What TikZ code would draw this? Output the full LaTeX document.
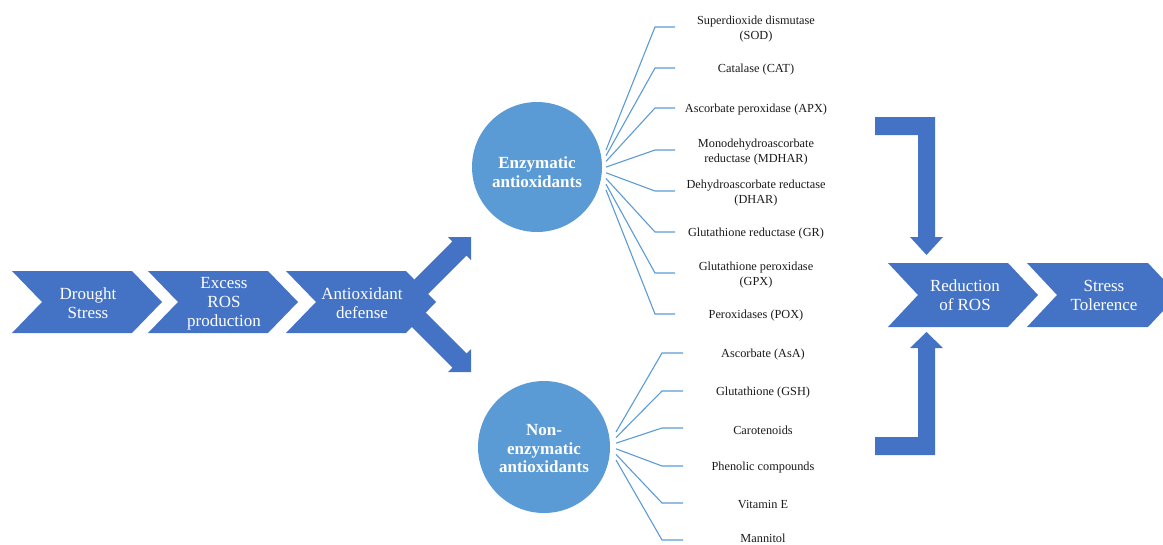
\documentclass[tikz,border=0pt]{standalone}
\usepackage{fontspec}
\setmainfont{Liberation Serif}
\definecolor{chev}{HTML}{4472C4}
\definecolor{circ}{HTML}{5B9BD5}
\definecolor{itemtxt}{HTML}{1A1A1A}
\newcommand\chevronpath[4]{% left x, top y, height, width to tip
  \fill[chev] (#1,#2) -- ++(#4-30,0) -- ++(30,#3/2) -- ++(-30,#3/2) -- ++(-#4+30,0) -- ++(30,-#3/2) -- cycle;}
\begin{document}
\begin{tikzpicture}[x=1pt,y=-1pt,
  chevtext/.style={text=white,align=center,font=\fontsize{17}{19}\selectfont,inner sep=0pt},
  bubble/.style={circle,fill=circ,inner sep=0pt},
  bubtext/.style={text=white,align=center,font=\bfseries\fontsize{17}{18.5}\selectfont,inner sep=0pt},
  item/.style={align=center,font=\fontsize{12.3}{14.5}\selectfont,text=itemtxt,inner sep=0pt},
  fan/.style={draw=circ,line width=1.1pt}]
\useasboundingbox (0,0) rectangle (1163,544);
\clip (0,0) rectangle (1163,544);

% left chevrons
\chevronpath{12}{271}{62}{150}
\chevronpath{148}{271}{62}{150}
\chevronpath{286}{271}{62}{150}
% diagonal block arrows
\fill[chev] (398.4,295.4) -- (452.4,241.4) -- (448,237) -- (471,237) -- (471,260) -- (466.6,255.6) -- (412.6,309.6) -- cycle;
\fill[chev] (398.4,313.6) -- (452.4,367.6) -- (448,372) -- (471,372) -- (471,349) -- (466.6,353.4) -- (412.6,299.4) -- cycle;

\node[chevtext] (drought) at (88,303) {Drought\\Stress};
\node[chevtext] (excess) at (224,304) {Excess\\ROS\\production};
\node[chevtext] (defense) at (362,303) {Antioxidant\\defense};

% circles
\node[bubble,minimum size=130pt] (enz) at (537,167) {};
\node[bubtext] (enzt) at (537,172) {Enzymatic\\antioxidants};
\node[bubble,minimum size=132pt] (non) at (544,447) {};
\node[bubtext] (nont) at (544,449) {Non-\\enzymatic\\antioxidants};

% enzymatic items
\node[item] (e1) at (756,29) {Superdioxide dismutase\\(SOD)};
\node[item] (e2) at (756,70) {Catalase (CAT)};
\node[item] (e3) at (756,110) {Ascorbate peroxidase (APX)};
\node[item] (e4) at (756,152) {Monodehydroascorbate\\reductase (MDHAR)};
\node[item] (e5) at (756,193) {Dehydroascorbate reductase\\(DHAR)};
\node[item] (e6) at (756,234) {Glutathione reductase (GR)};
\node[item] (e7) at (756,275) {Glutathione peroxidase\\(GPX)};
\node[item] (e8) at (756,316) {Peroxidases (POX)};
\foreach \y [count=\i] in {27,68,108,150,191,232,273,314}{
  \coordinate (es\i) at (606,{150+(\i-1)*5.7});
  \coordinate (ek\i) at (655,\y);
  \coordinate (ee\i) at (675,\y);
  \draw[fan] (es\i) -- (ek\i) -- (ee\i);
}

% non-enzymatic items
\node[item] (n1) at (763,355) {Ascorbate (AsA)};
\node[item] (n2) at (763,393) {Glutathione (GSH)};
\node[item] (n3) at (763,430) {Carotenoids};
\node[item] (n4) at (763,468) {Phenolic compounds};
\node[item] (n5) at (763,505) {Vitamin E};
\node[item] (n6) at (763,538) {Mannitol};
\foreach \y [count=\i] in {353,391,428,466,503,540}{
  \coordinate (ns\i) at (616,{432+(\i-1)*5.6});
  \coordinate (nk\i) at (662,\y);
  \coordinate (ne\i) at (683,\y);
  \draw[fan] (ns\i) -- (nk\i) -- (ne\i);
}

% bracket arrows
\fill[chev] (875,117) -- (935,117) -- (935,237) -- (943,237) -- (926.5,255) -- (910,237) -- (918,237) -- (918,135) -- (875,135) -- cycle;
\fill[chev] (875,455) -- (935,455) -- (935,348) -- (943,348) -- (926.5,332) -- (910,348) -- (918,348) -- (918,437) -- (875,437) -- cycle;

% right chevrons
\chevronpath{888}{263}{64}{150}
\chevronpath{1027}{263}{64}{151}
\node[chevtext] (reduction) at (965,295.5) {Reduction\\of ROS};
\node[chevtext] (tolerance) at (1104,295.5) {Stress\\Tolerence};
\end{tikzpicture}
\end{document}
